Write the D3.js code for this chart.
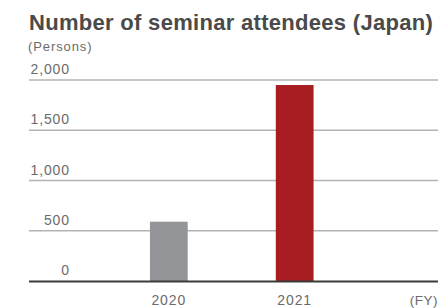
<!DOCTYPE html>
<html>
<head>
<meta charset="utf-8">
<script src="https://cdn.jsdelivr.net/npm/d3@7"></script>
<style>
  body { margin: 0; background: #fff; }
  text { font-family: "Liberation Sans", Arial, sans-serif; }
</style>
</head>
<body>
<svg id="chart"></svg>
<script>
var years = ["2020", "2021"];
var attendees = [590, 1950];
var barColors = ["#939598", "#a61c21"];
var tickValues = [0, 500, 1000, 1500, 2000];

var width = 446, height = 308;

var svg = d3.select("#chart")
  .attr("width", width)
  .attr("height", height);

// title
svg.append("text")
  .attr("x", 29).attr("y", 30)
  .style("font-size", "22px").style("font-weight", "bold")
  .style("letter-spacing", "0.3px")
  .attr("fill", "#4a4a4a")
  .text("Number of seminar attendees (Japan)");

svg.append("text")
  .attr("x", 28).attr("y", 51)
  .style("font-size", "13px")
  .style("letter-spacing", "0.9px")
  .attr("fill", "#6b6b6b")
  .text("(Persons)");

var y = d3.scaleLinear()
  .domain([0, 2000])
  .range([281, 80]);

var x = d3.scaleBand()
  .domain(years)
  .range([87, 376.5])
  .paddingInner(0.7)
  .paddingOuter(0.5);

// grid lines
svg.append("g").selectAll("line")
  .data(tickValues.filter(function (d) { return d > 0; }))
  .enter().append("line")
  .attr("x1", 29).attr("x2", 438)
  .attr("y1", function (d) { return y(d); })
  .attr("y2", function (d) { return y(d); })
  .attr("stroke", "#b3b3b3")
  .attr("stroke-width", 1.3);

// tick labels sit above the grid lines
svg.append("g").selectAll("text")
  .data(tickValues)
  .enter().append("text")
  .attr("x", 70)
  .attr("y", function (d) { return y(d) - 6; })
  .attr("text-anchor", "end")
  .style("font-size", "14px")
  .style("letter-spacing", "0.9px")
  .attr("fill", "#6b6b6b")
  .text(function (d) { return d3.format(",")(d); });

// bars
svg.append("g").selectAll("rect")
  .data(attendees)
  .enter().append("rect")
  .attr("x", function (d, i) { return x(years[i]); })
  .attr("width", x.bandwidth())
  .attr("y", function (d) { return y(d); })
  .attr("height", function (d) { return y(0) - y(d); })
  .attr("fill", function (d, i) { return barColors[i]; });

// baseline
svg.append("line")
  .attr("x1", 29).attr("x2", 438)
  .attr("y1", y(0) + 0.5).attr("y2", y(0) + 0.5)
  .attr("stroke", "#3a3a3a")
  .attr("stroke-width", 2);

// x labels
svg.append("g").selectAll("text")
  .data(years)
  .enter().append("text")
  .attr("x", function (d) { return x(d) + x.bandwidth() / 2; })
  .attr("y", 305)
  .attr("text-anchor", "middle")
  .style("font-size", "14px")
  .style("letter-spacing", "0.9px")
  .attr("fill", "#6b6b6b")
  .text(function (d) { return d; });

svg.append("text")
  .attr("x", 438).attr("y", 305)
  .attr("text-anchor", "end")
  .style("font-size", "13.5px")
  .style("letter-spacing", "0.5px")
  .attr("fill", "#6b6b6b")
  .text("(FY)");
</script>
</body>
</html>
